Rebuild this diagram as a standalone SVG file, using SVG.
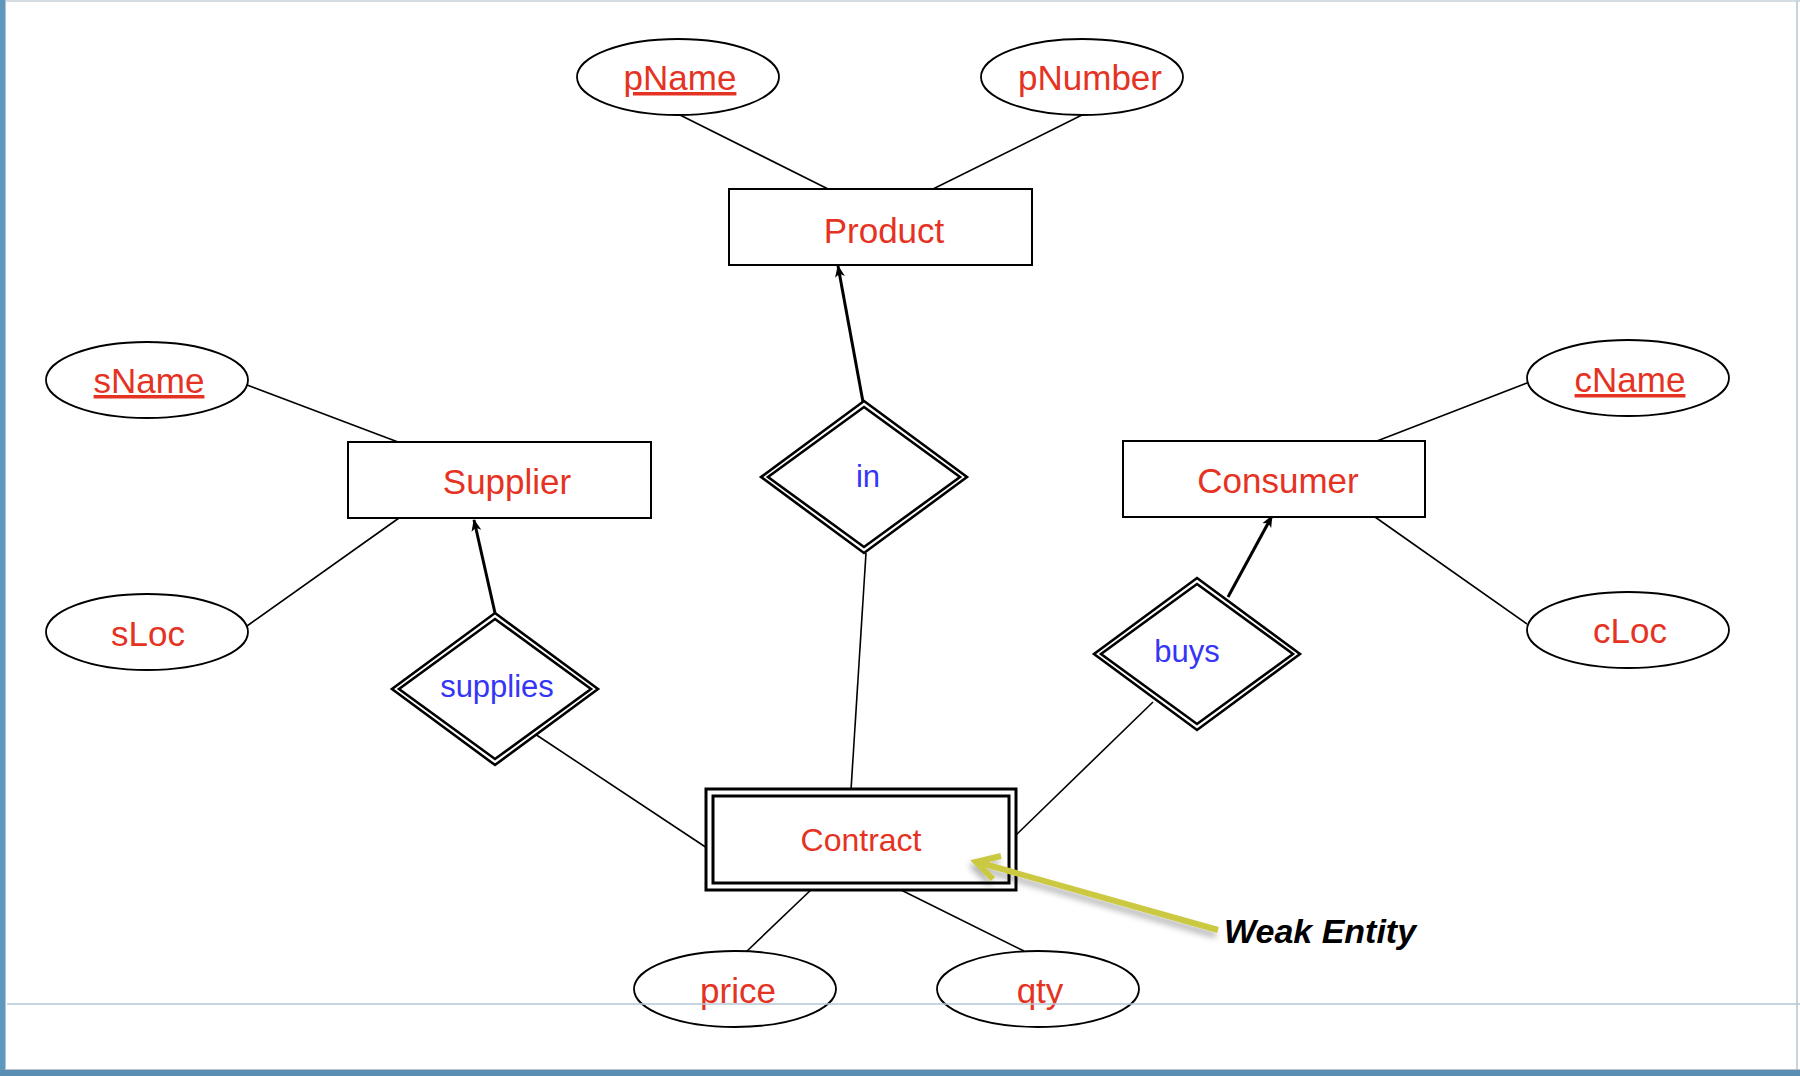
<svg xmlns="http://www.w3.org/2000/svg" width="1800" height="1076" viewBox="0 0 1800 1076">
<style>
  .attr { fill: #ffffff; stroke: #000000; stroke-width: 1.8; }
  .ent { fill: #ffffff; stroke: #000000; stroke-width: 2; }
  .wk { fill: none; stroke: #000000; stroke-width: 3; }
  .dia { fill: #ffffff; stroke: #000000; stroke-width: 2.6; stroke-linejoin: miter; }
  .dia2 { fill: none; stroke: #000000; stroke-width: 2.6; stroke-linejoin: miter; }
  .lab { font-family: "Liberation Sans", Arial, sans-serif; font-size: 35px; fill: #e53323; text-anchor: middle; }
  .rel { font-family: "Liberation Sans", Arial, sans-serif; font-size: 31px; fill: #3535f5; text-anchor: middle; }
  .key { text-decoration: underline; }
  .thin { fill: none; stroke: #000000; stroke-width: 1.6; }
  .thick { fill: none; stroke: #000000; stroke-width: 3; marker-end: url(#ah); }
  .note { font-family: "Liberation Sans", Arial, sans-serif; font-size: 34px; font-weight: bold; font-style: italic; fill: #000000; }
</style>
<defs>
  <marker id="ah" viewBox="0 0 12 12" refX="11" refY="6" markerWidth="4" markerHeight="4" orient="auto" markerUnits="strokeWidth">
    <path d="M0,1 L12,6 L0,11 L3,6 Z" fill="#000000"/>
  </marker>
  <filter id="sh" x="-10%" y="-30%" width="120%" height="160%">
    <feDropShadow dx="-2" dy="5" stdDeviation="3" flood-color="#000000" flood-opacity="0.3"/>
  </filter>
  <g id="diamond">
    <polygon class="dia" points="0,-76 103,0 0,76 -103,0"/>
    <polygon class="dia2" points="0,-70 96,0 0,70 -96,0"/>
  </g>
</defs>

<!-- page frame -->
<rect x="0" y="0" width="1800" height="1076" fill="#ffffff"/>
<line x1="0" y1="1" x2="1800" y2="1" stroke="#d4dde4" stroke-width="2"/>
<line x1="1797" y1="0" x2="1797" y2="1070" stroke="#c8d4dc" stroke-width="2"/>
<rect x="0" y="0" width="5" height="1076" fill="#5f97bd"/>
<line x1="5.5" y1="0" x2="5.5" y2="1071" stroke="#a9c6da" stroke-width="1"/>
<rect x="0" y="1070" width="1800" height="6" fill="#5a8fb3"/>
<line x1="5" y1="1069.5" x2="1800" y2="1069.5" stroke="#b9c3c9" stroke-width="1"/>

<!-- connectors -->
<g id="connectors">
  <line class="thin" x1="680" y1="115" x2="828" y2="189"/>
  <line class="thin" x1="1082" y1="115" x2="933" y2="189"/>
  <line class="thin" x1="247" y1="385" x2="398" y2="442"/>
  <line class="thin" x1="247" y1="626" x2="399" y2="518"/>
  <line class="thin" x1="1527" y1="383" x2="1377" y2="441"/>
  <line class="thin" x1="1375" y1="517" x2="1527" y2="624"/>
  <line class="thin" x1="866" y1="553" x2="851" y2="790"/>
  <line class="thin" x1="535" y1="734" x2="710" y2="850"/>
  <line class="thin" x1="1153" y1="702" x2="1016" y2="835"/>
  <line class="thin" x1="746" y1="952" x2="814" y2="887"/>
  <line class="thin" x1="893" y1="886" x2="1024" y2="951"/>
  <line class="thick" x1="863" y1="402" x2="838" y2="266"/>
  <line class="thick" x1="495" y1="613" x2="474" y2="520"/>
  <line class="thick" x1="1228" y1="597" x2="1272" y2="516"/>
</g>

<!-- attributes -->
<g id="pName"><ellipse class="attr" cx="678" cy="77" rx="101" ry="38"/><text class="lab key" x="680" y="90">pName</text></g>
<g id="pNumber"><ellipse class="attr" cx="1082" cy="77" rx="101" ry="38"/><text class="lab" x="1090" y="90">pNumber</text></g>
<g id="sName"><ellipse class="attr" cx="147" cy="380" rx="101" ry="38"/><text class="lab key" x="149" y="393">sName</text></g>
<g id="sLoc"><ellipse class="attr" cx="147" cy="632" rx="101" ry="38"/><text class="lab" x="148" y="646">sLoc</text></g>
<g id="cName"><ellipse class="attr" cx="1628" cy="378" rx="101" ry="38"/><text class="lab key" x="1630" y="392">cName</text></g>
<g id="cLoc"><ellipse class="attr" cx="1628" cy="630" rx="101" ry="38"/><text class="lab" x="1630" y="643">cLoc</text></g>
<g id="price"><ellipse class="attr" cx="735" cy="989" rx="101" ry="38"/><text class="lab" x="738" y="1003">price</text></g>
<g id="qty"><ellipse class="attr" cx="1038" cy="989" rx="101" ry="38"/><text class="lab" x="1040" y="1003">qty</text></g>

<!-- entities -->
<g id="Product"><rect class="ent" x="729" y="189" width="303" height="76"/><text class="lab" x="884" y="243">Product</text></g>
<g id="Supplier"><rect class="ent" x="348" y="442" width="303" height="76"/><text class="lab" x="507" y="494">Supplier</text></g>
<g id="Consumer"><rect class="ent" x="1123" y="441" width="302" height="76"/><text class="lab" x="1278" y="493">Consumer</text></g>
<g id="Contract">
  <rect x="706" y="789" width="310" height="101" fill="#ffffff" stroke="none"/>
  <rect class="wk" x="706" y="789" width="310" height="101"/>
  <rect class="wk" x="713" y="796" width="296" height="87"/>
  <text class="lab" x="861" y="851" style="font-size:32px">Contract</text>
</g>

<!-- relationships -->
<g id="in"><use href="#diamond" x="864" y="477"/><text class="rel" x="868" y="487">in</text></g>
<g id="supplies"><use href="#diamond" x="495" y="689"/><text class="rel" x="497" y="697">supplies</text></g>
<g id="buys"><use href="#diamond" x="1197" y="654"/><text class="rel" x="1187" y="662">buys</text></g>

<!-- annotation -->
<g id="weak-entity-note">
  <g filter="url(#sh)">
    <path d="M1218,930 L977,862 M1001,856 L976,862 L993,879" fill="none" stroke="#cbc843" stroke-width="6" stroke-linecap="butt" stroke-linejoin="miter"/>
  </g>
  <text class="note" x="1224" y="943">Weak Entity</text>
</g>

<!-- page guide line drawn over the content -->
<line x1="7" y1="1004" x2="1800" y2="1004" stroke="#b3c7d6" stroke-width="1.5"/>
</svg>
